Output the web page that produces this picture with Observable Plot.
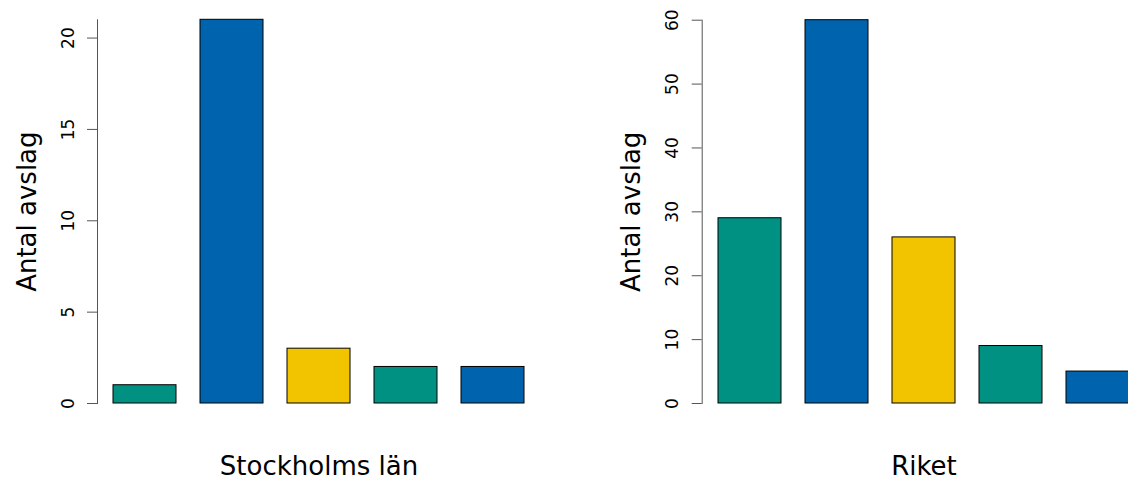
<!DOCTYPE html>
<html>
<head>
<meta charset="utf-8">
<script src="https://cdn.jsdelivr.net/npm/d3@7"></script>
<script src="https://cdn.jsdelivr.net/npm/@observablehq/plot@0.6"></script>
<style>
  html, body { margin: 0; padding: 0; background: #fff; overflow: hidden; }
  #wrap { display: flex; width: 1128px; height: 481px; }
  #wrap > div { width: 564px; height: 481px; overflow: hidden; }
</style>
</head>
<body>
<div id="wrap"><div id="left"></div><div id="right"></div></div>
<script>
const categories = ["Kategori 1", "Kategori 2", "Kategori 3", "Kategori 4", "Kategori 5"];
const barColors = ["#009182", "#0063AD", "#F2C400", "#009182", "#0063AD"];
const stockholmValues = [1, 21, 3, 2, 2];
const riketValues = [29, 60, 26, 9, 5];
const stockholmTicks = [0, 5, 10, 15, 20];
const riketTicks = [0, 10, 20, 30, 40, 50, 60];
const yLabel = "Antal avslag";
const panelTitles = ["Stockholms län", "Riket"];

function panel(values, ticks, title, yMax, marginLeft, marginTop) {
  const data = categories.map((c, i) => ({cat: c, value: values[i], color: barColors[i]}));
  const plotW = 443;
  return Plot.plot({
    width: 564,
    height: 481,
    marginLeft,
    marginRight: 0,
    marginTop,
    marginBottom: 78,
    style: {fontFamily: "DejaVu Sans", background: "white", overflow: "hidden"},
    x: {type: "band", domain: categories, range: [marginLeft, marginLeft + plotW], paddingInner: 0.278, paddingOuter: 0.176, axis: null},
    y: {domain: [0, yMax], axis: null},
    marks: [
      Plot.barY(data, {x: "cat", y: "value", fill: "color", stroke: "black", strokeWidth: 1}),
      Plot.frame({anchor: "left", stroke: "#555"}),
      Plot.axisY(ticks, {anchor: "left", tickSize: 10, tickFormat: () => "", stroke: "#555", label: null}),
      Plot.text(ticks, {y: d => d, text: d => String(d), frameAnchor: "left", dx: -24, rotate: -90, lineAnchor: "bottom", textAnchor: "middle", fontSize: 17, fill: "black"}),
      Plot.text([yLabel], {text: d => d, frameAnchor: "left", dx: -62, rotate: -90, lineAnchor: "bottom", textAnchor: "middle", fontSize: 26, fill: "black"}),
      Plot.text([title], {text: d => d, x: () => categories[2], frameAnchor: "bottom", dy: 71, lineAnchor: "bottom", textAnchor: "middle", fontSize: 26, fill: "black"})
    ]
  });
}

document.getElementById("left").appendChild(panel(stockholmValues, stockholmTicks, panelTitles[0], 21, 97, 19.3));
document.getElementById("right").appendChild(panel(riketValues, riketTicks, panelTitles[1], 60, 137.7, 19.7));
</script>
</body>
</html>
